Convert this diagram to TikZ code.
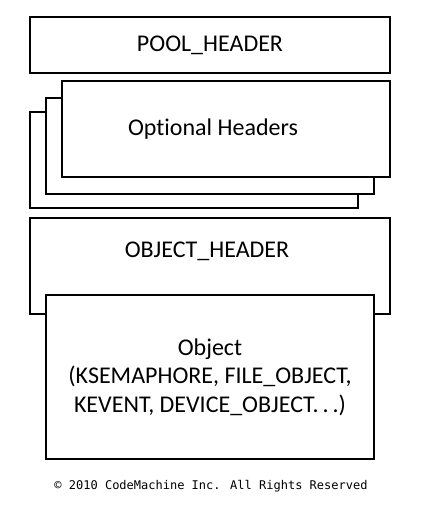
\documentclass[tikz,border=0pt]{standalone}
\usepackage{fontspec}
\setmainfont{Carlito}[RawFeature=-liga]
\newfontfamily\copyfont{DejaVu Sans Mono}
\usetikzlibrary{positioning}
\tikzset{
  % General box
  box/.style={draw, fill=white, line width=1.1pt, inner sep=0pt, outer sep=0pt,
    font=\fontsize{24}{28.5}\selectfont, align=center},
  % Header box of the pool
  wbox/.style={box, minimum width=360, minimum height=#1},
  % Narrow box
  nbox/.style={box, minimum width=328, minimum height=#1},
  % Plain text
  txt/.style={inner sep=0pt, font=\fontsize{24}{28.5}\selectfont},
}

\begin{document}
\begin{tikzpicture}[x=1pt, y=-1pt]
      \useasboundingbox (0,0) rectangle (427,505);

      \node[wbox=56] (pool) at (210,45) {POOL\_HEADER};

      % stacked optional headers
      \node[nbox=96] (opt3) at (194,160) {};
      \node[nbox=96] (opt2) at (210,146) {};
      \node[nbox=96] (opt1) at (226,129) {};
      \node[txt, xshift=-13pt] (opttxt) at (opt1) {Optional Headers};

      \node[wbox=96] (objhdr) at (210,266) {};
      \node[txt, below=24pt of objhdr.north, xshift=-3pt] (objhdrtxt)
        {OBJECT\_HEADER};

      \node[nbox=164] (obj) at (210,377)
        {Object\\(KSEMAPHORE, FILE\_OBJECT,\\KEVENT, DEVICE\_OBJECT.\,.\,.)};

      \node[inner sep=0pt, font=\copyfont\fontsize{12}{14}\selectfont]
        (copy) at (211,486) {© 2010 CodeMachine Inc. All Rights Reserved};
    \end{tikzpicture}
\end{document}
